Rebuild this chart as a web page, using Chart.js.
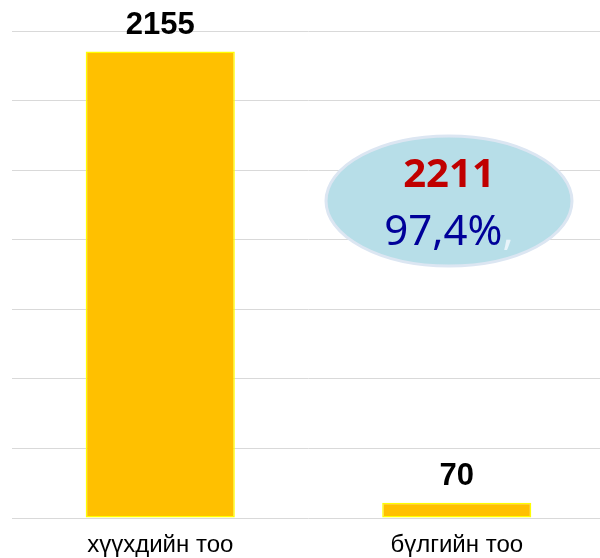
<!DOCTYPE html>
<html>
<head>
<meta charset="utf-8">
<script src="https://cdn.jsdelivr.net/npm/chart.js@4.4.0/dist/chart.umd.min.js"></script>
<style>
  html, body { margin: 0; padding: 0; background: #fff; overflow: hidden; }
  #wrap { width: 600px; height: 558px; overflow: hidden; }
</style>
</head>
<body>
<div id="wrap"><canvas id="c" width="605" height="558"></canvas></div>
<script>
// chart data
const categories = ['хүүхдийн тоо', 'бүлгийн тоо'];
const counts = [2155, 70];
const totalLabel = '2211';
const percentLabel = '97,4%';
const axisMax = 2250;
const gridSteps = 7;

// value labels above the bars
const valueLabels = {
  id: 'valueLabels',
  afterDatasetsDraw(chart){
    const ctx = chart.ctx;
    const meta = chart.getDatasetMeta(0);
    ctx.save();
    ctx.font = 'bold 31px "Liberation Sans", Arial, sans-serif';
    ctx.fillStyle = '#000';
    ctx.textAlign = 'center';
    ctx.textBaseline = 'alphabetic';
    meta.data.forEach((bar, i) => {
      ctx.fillText(String(counts[i]), bar.x, bar.y - 18);
    });
    ctx.restore();
  }
};

// ellipse callout with the total
const callout = {
  id: 'callout',
  afterDraw(chart){
    const ctx = chart.ctx;
    const cx = 449, cy = 201;
    ctx.save();
    ctx.beginPath();
    ctx.ellipse(cx, cy, 123, 65, 0, 0, Math.PI * 2);
    ctx.fillStyle = '#B7DEE8';
    ctx.fill();
    ctx.lineWidth = 3;
    ctx.strokeStyle = '#DCE6F2';
    ctx.stroke();

    ctx.textAlign = 'center';
    ctx.textBaseline = 'alphabetic';
    ctx.font = 'bold 40px "Noto Sans", "Open Sans", sans-serif';
    ctx.fillStyle = '#C00000';
    ctx.fillText(totalLabel, cx, 187);

    ctx.font = '42px "Noto Sans", "Open Sans", sans-serif';
    const w1 = ctx.measureText(percentLabel).width;
    const w2 = ctx.measureText(',').width;
    const x0 = cx - (w1 + w2) / 2;
    ctx.textAlign = 'left';
    ctx.fillStyle = '#000099';
    ctx.fillText(percentLabel, x0, 245);
    ctx.fillStyle = '#E8F4FA';
    ctx.fillText(',', x0 + w1, 245);
    ctx.restore();
  }
};

new Chart(document.getElementById('c').getContext('2d'), {
  type: 'bar',
  data: {
    labels: categories,
    datasets: [{
      data: counts,
      backgroundColor: '#FFC000',
      borderColor: '#FFFF00',
      borderWidth: 1.5,
      borderSkipped: false,
      categoryPercentage: 1,
      barPercentage: 0.503
    }]
  },
  options: {
    responsive: false,
    animation: false,
    layout: { padding: { left: 12, right: 0, top: 31, bottom: 0 } },
    plugins: { legend: { display: false }, tooltip: { enabled: false } },
    scales: {
      x: {
        grid: { display: false },
        border: { display: false },
        ticks: {
          color: '#000',
          padding: 5,
          font: { family: '"Liberation Sans", Arial, sans-serif', size: 24 }
        },
        afterFit(axis){ axis.height = 40; }
      },
      y: {
        min: 0,
        max: axisMax,
        afterBuildTicks(axis){
          axis.ticks = [];
          for(let i = 0; i <= gridSteps; i++) axis.ticks.push({ value: axisMax * i / gridSteps });
        },
        ticks: { display: false },
        grid: { color: '#D9D9D9', lineWidth: 1, drawTicks: false },
        border: { display: false }
      }
    }
  },
  plugins: [valueLabels, callout]
});
</script>
</body>
</html>
